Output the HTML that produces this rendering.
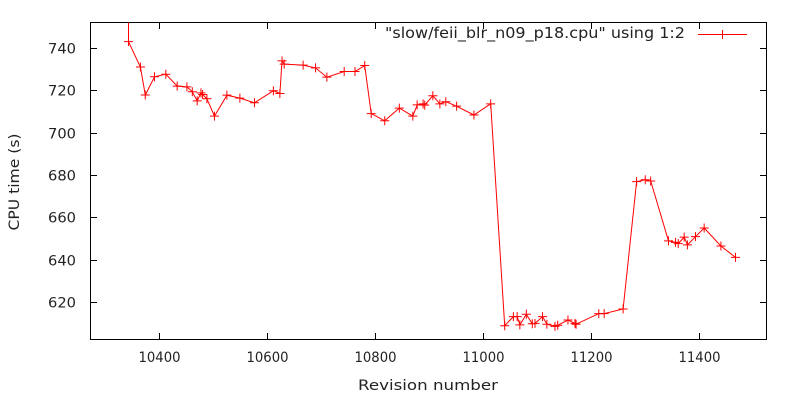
<!DOCTYPE html>
<html><head><meta charset="utf-8"><style>
html,body{margin:0;padding:0;background:#fff;}
svg{display:block;font-family:"DejaVu Sans","Liberation Sans",sans-serif;}
</style></head><body>
<svg id="chart" width="800" height="400" viewBox="0 0 800 400" xmlns="http://www.w3.org/2000/svg">
<defs><clipPath id="plotclip"><rect x="90" y="22.5" width="677" height="317"/></clipPath></defs>
<rect x="0" y="0" width="800" height="400" fill="#fff"/>
<g id="xticks"></g>
<g id="yticks"></g>
<rect x="90.5" y="22.5" width="676" height="317" fill="none" stroke="#000" stroke-width="1"/>
<text transform="translate(19,182) rotate(-90)" text-anchor="middle" font-size="14" fill="#222" textLength="97" lengthAdjust="spacingAndGlyphs">CPU time (s)</text>
<text x="428" y="390" text-anchor="middle" font-size="14" fill="#222" textLength="140" lengthAdjust="spacingAndGlyphs">Revision number</text>
<g>
<text x="385" y="38" font-size="15" fill="#222" textLength="300" lengthAdjust="spacingAndGlyphs">"slow/feii_blr_n09_p18.cpu" using 1:2</text>
<line x1="698" y1="34.5" x2="747" y2="34.5" stroke="#f00" stroke-width="1"/>
<path d="M718 34.5h9M722.5 30v9" stroke="#f00" stroke-width="1"/>
</g>
<g id="series" clip-path="url(#plotclip)"></g>
</svg>
<script>
const revisions = [10344,10344,10366,10375,10392,10413,10434,10452,10462,10471,10478,10481,10489,10503,10526,10550,10577,10612,10624,10628,10632,10667,10690,10711,10743,10763,10781,10793,10818,10845,10870,10878,10889,10892,10907,10920,10931,10951,10983,11014,11040,11056,11063,11068,11080,11091,11096,11110,11118,11133,11138,11157,11170,11172,11214,11224,11259,11284,11300,11310,11343,11356,11361,11372,11378,11393,11409,11440,11467];
const cpuTimes = [760,743.0,731.0,717.8,726.4,727.6,722.0,721.6,719.3,715.0,718.8,718.0,716.0,707.8,717.7,716.3,714.1,719.8,718.5,733.9,732.4,731.9,730.6,726.2,728.9,728.9,731.7,709.0,705.6,711.6,707.8,713.1,713.6,713.0,717.4,713.6,714.6,712.5,708.3,713.6,608.7,613.0,613.0,609.1,614.1,609.6,609.8,613.0,609.4,608.4,608.9,611.4,609.8,609.4,614.4,614.4,616.6,676.8,677.7,677.1,648.8,648.1,647.5,650.6,646.9,650.8,654.9,646.4,641.0];
const xTickValues = [10400,10600,10800,11000,11200,11400];
const yTickValues = [620,640,660,680,700,720,740];

const NS = "http://www.w3.org/2000/svg";
function xScale(v){ return 158.8 + (v - 10400) * 0.5405; }
function yScale(v){ return 48 + (740 - v) * 2.115; }
function mk(tag, attrs){ const e = document.createElementNS(NS, tag); for (const k in attrs) e.setAttribute(k, attrs[k]); return e; }

const xg = document.getElementById('xticks');
xTickValues.forEach(v => {
  const x = Math.round(xScale(v)) + 0.5;
  const t1 = mk('line', {x1:x, y1:339.5, x2:x, y2:333, stroke:'#000'});
  
  
  xg.appendChild(t1);
  const t2 = mk('line', {x1:x, y1:22.5, x2:x, y2:29, stroke:'#000'});
  
  
  xg.appendChild(t2);
  const lb = mk('text', {x:x, y:362, 'text-anchor':'middle', 'font-size':14, fill:'#222', textLength:42, lengthAdjust:'spacingAndGlyphs'});
  lb.textContent = v;
  
  
  xg.appendChild(lb);
});
const yg = document.getElementById('yticks');
yTickValues.forEach(v => {
  const y = Math.round(yScale(v)) + 0.5;
  const t1 = mk('line', {x1:90.5, y1:y, x2:97, y2:y, stroke:'#000'});
  
  
  yg.appendChild(t1);
  const t2 = mk('line', {x1:766.5, y1:y, x2:760, y2:y, stroke:'#000'});
  
  
  yg.appendChild(t2);
  const lb = mk('text', {x:76, y:y+5, 'text-anchor':'end', 'font-size':14, fill:'#222', textLength:28, lengthAdjust:'spacingAndGlyphs'});
  lb.textContent = v;
  
  
  yg.appendChild(lb);
});

const sg = document.getElementById('series');
const pts = revisions.map((r, i) => xScale(r).toFixed(1) + ',' + yScale(cpuTimes[i]).toFixed(1)).join(' ');
const line = mk('polyline', {points:pts, fill:'none', stroke:'#f00', 'stroke-width':1});


sg.appendChild(line);
revisions.forEach((r, i) => {
  const x = xScale(r), y = yScale(cpuTimes[i]);
  const p = mk('path', {d:`M${x-4.5} ${y}h9M${x} ${y-4.5}v9`, stroke:'#f00', 'stroke-width':1, fill:'none'});
  
  
  sg.appendChild(p);
});
</script>
</body></html>
